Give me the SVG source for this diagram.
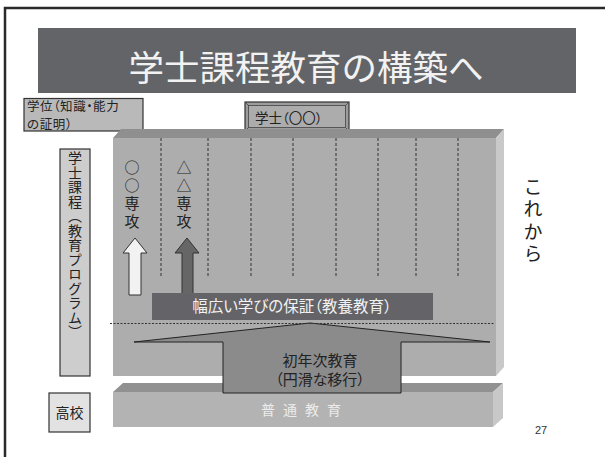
<svg xmlns="http://www.w3.org/2000/svg" width="605" height="457" viewBox="0 0 605 457">
<style>
.t{font-family:"Noto Sans CJK JP","Noto Sans",sans-serif;fill:#222}
.p{font-feature-settings:"palt"}
.v{writing-mode:vertical-rl}
.box{stroke:#333;stroke-width:1.2}
.dash{stroke:#333;stroke-width:1;stroke-dasharray:3,2;fill:none}
</style>
<rect width="605" height="457" fill="#fff"/>
<path d="M5,457 V8 H605" fill="none" stroke="#2a2a2a" stroke-width="2.5"/>

<g id="title">
<rect x="38" y="28" width="538" height="65" fill="#636468"/>
<text class="t" x="306" y="81" font-size="35.5" text-anchor="middle" style="fill:#f2f2f2">学士課程教育の構築へ</text>
</g>

<g id="degree-label">
<rect class="box" x="24" y="98.5" width="119" height="32.5" fill="#b9b9b9"/>
<text class="t p" font-size="12.5" letter-spacing="0.6"><tspan x="27" y="111">学位（知識・能力</tspan><tspan x="27" y="128.8">の証明）</tspan></text>
</g>

<g id="bachelor-box">
<rect x="245" y="102" width="104" height="29" fill="#9c9c9c" stroke="#333" stroke-width="1.2"/>
<rect x="248.5" y="105.5" width="97" height="22" fill="#acacac" stroke="#444" stroke-width="0.8"/>
<path d="M245,102 L248.5,105.5 M349,102 L345.5,105.5 M245,131 L248.5,127.5 M349,131 L345.5,127.5" stroke="#444" stroke-width="0.8"/>
<text class="t p" x="255" y="122.5" font-size="13.5">学士（〇〇）</text>
</g>

<g id="program-block">
<polygon points="113,138 121,129 504,129 496,138" fill="#8f8f8f"/>
<polygon points="496,138 504,129 504,367 496,376" fill="#c9c9c9"/>
<rect x="113" y="138" width="383" height="238" fill="#adadad"/>
<path class="dash" d="M161,138V276 M208,138V276 M251,138V276 M293,138V276 M336,138V276 M378,138V276 M416,138V276 M458,138V276"/>
</g>

<g id="program-label">
<rect class="box" x="60" y="149" width="30" height="227" fill="#cdcdcd"/>
<text class="t v" x="75" y="151" font-size="14" letter-spacing="0.5">学士課程（教育プログラム）</text>
</g>

<g id="major-a">
<text class="t v" x="132" y="160" font-size="15" letter-spacing="3">○○専攻</text>
</g>
<g id="major-b">
<text class="t v" x="184" y="160" font-size="15" letter-spacing="3">△△専攻</text>
</g>

<g id="future-label">
<text class="t v" x="533" y="177" font-size="19" letter-spacing="3.5">これから</text>
</g>

<g id="connectors">
<polygon points="135,238 147,253 141,253 141,295 129,295 129,253 123,253" fill="#f2f2f2" stroke="#333" stroke-width="1"/>
<polygon points="187,238 199,253 193,253 193,295 182,295 182,253 175,253" fill="#666" stroke="#333" stroke-width="1"/>
</g>

<g id="general-education">
<polygon points="113,392 123,383 503,383 493,392" fill="#919191"/>
<polygon points="493,392 503,383 503,418 493,427" fill="#c8c8c8"/>
<rect x="113" y="392" width="380" height="35" fill="#b3b3b3"/>
<text class="t" x="305" y="415" font-size="14" text-anchor="middle" letter-spacing="8" style="fill:#ececec">普通教育</text>
</g>

<g id="first-year">
<polygon points="310,323 490,342 401,342 401,393 223,393 223,342 134,342" fill="#8b8b8b" stroke="#222" stroke-width="1"/>
<text class="t p" font-size="15" text-anchor="middle"><tspan x="320" y="366">初年次教育</tspan><tspan x="320" y="385">（円滑な移行）</tspan></text>
</g>

<g id="liberal-arts">
<rect x="152" y="293" width="281" height="27" fill="#636368"/>
<text class="t p" x="292" y="312" font-size="15.5" text-anchor="middle" style="fill:#f2f2f2">幅広い学びの保証（教養教育）</text>
<path d="M110,323.5 H494" stroke="#333" stroke-width="1" stroke-dasharray="2,1.5"/>
</g>

<g id="high-school">
<rect class="box" x="49" y="393" width="41" height="39" fill="#e2e2e2"/>
<text class="t" x="69.5" y="418" font-size="14" text-anchor="middle">高校</text>
</g>

<g id="page-number">
<text x="541" y="434" font-family="Liberation Sans,Arial,sans-serif" font-size="11" text-anchor="middle" fill="#333">27</text>
</g>
</svg>
